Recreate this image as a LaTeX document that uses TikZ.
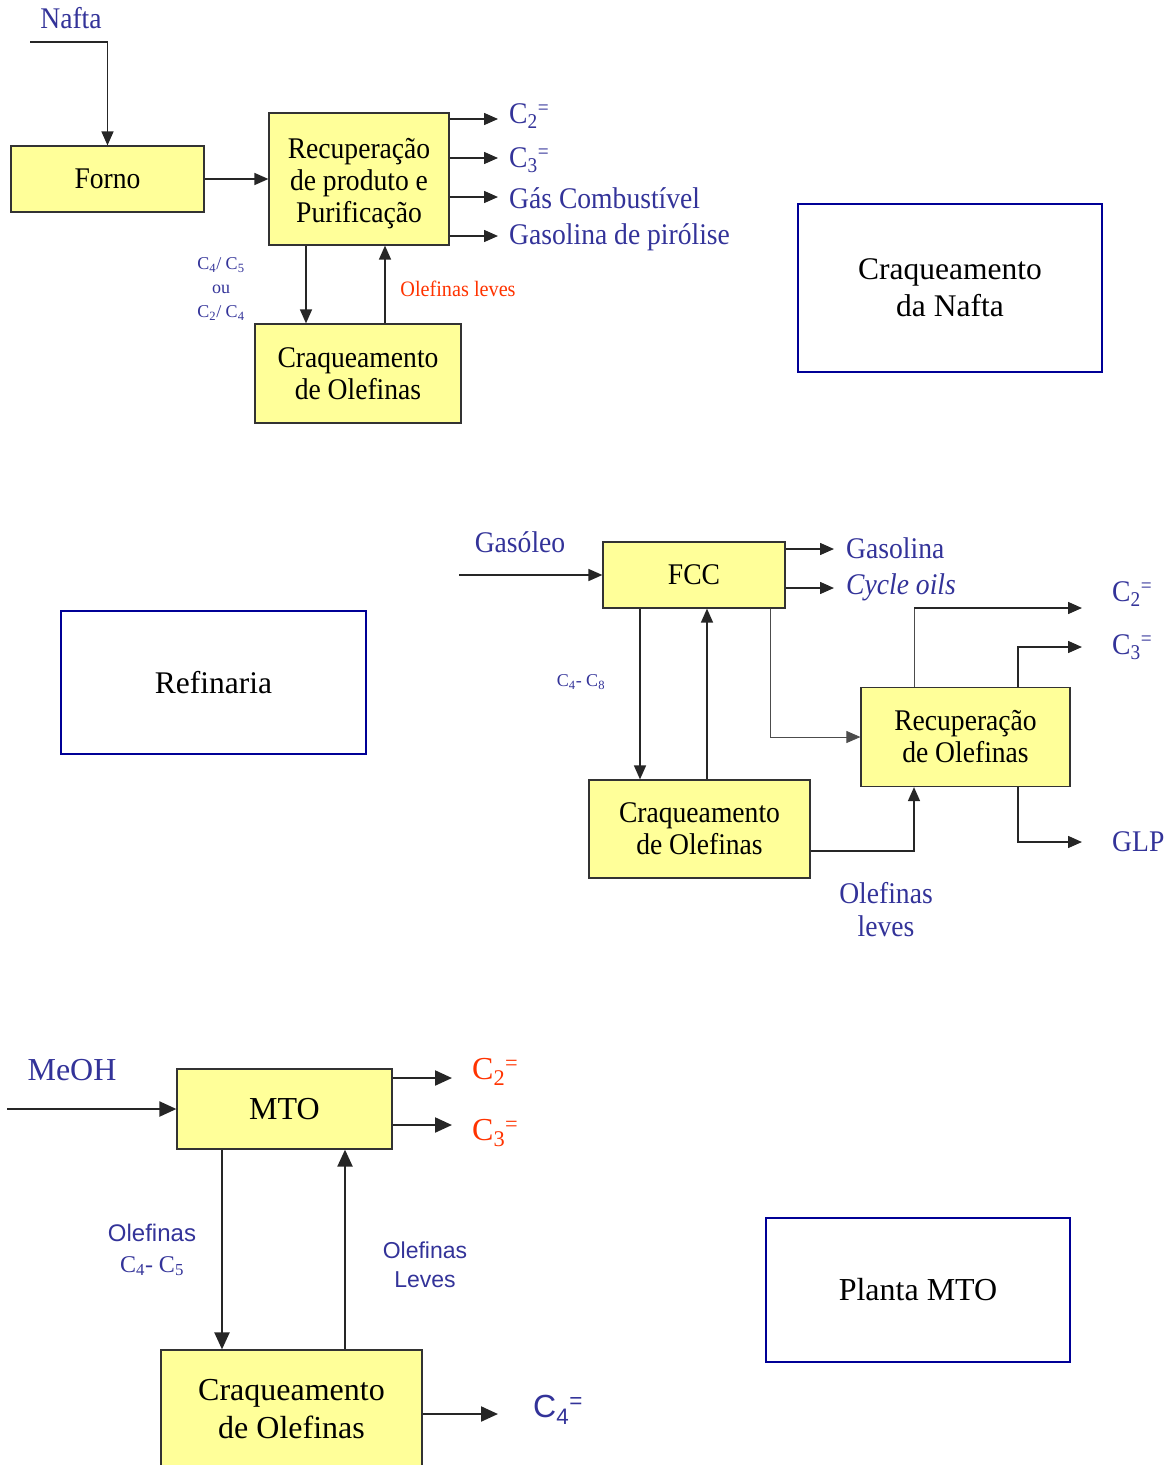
\documentclass[tikz,border=0pt]{standalone}
\usepackage{fontspec}
\setmainfont{Liberation Serif}
\newfontfamily\cond[FakeStretch=0.92]{Liberation Serif}
\newfontfamily\arial{Liberation Sans}
\usetikzlibrary{arrows.meta}
\definecolor{boxyellow}{RGB}{255,255,153}
\definecolor{labelblue}{RGB}{51,51,153}
\definecolor{labelred}{RGB}{255,51,0}
\definecolor{frameblue}{RGB}{0,0,150}
% olefin symbol: C with carbon count and double-bond mark
\newcommand{\olef}[1]{C\textsubscript{#1}\textsuperscript{=}}
\begin{document}
\begin{tikzpicture}[x=1pt,y=-1pt,
  proc/.style={draw=black!80, line width=1.2pt, fill=boxyellow, inner sep=0pt, align=center},
  frame/.style={draw=frameblue, line width=1.5pt, fill=white, inner sep=0pt, align=center,
    font=\fontsize{31.5}{37}\selectfont},
  flow/.style={line width=1.5pt, draw=black!85, -{Triangle[length=14pt,width=12pt]}},
  thick flow/.style={line width=2.2pt, draw=black!85, -{Triangle[length=17pt,width=15pt]}},
  thin flow/.style={line width=0.8pt, draw=black!70, -{Triangle[length=14pt,width=12pt]}},
  lbl/.style={text=labelblue, inner sep=0pt, align=center},
  small/.style={font=\cond\fontsize{30}{32}\selectfont},
  tiny/.style={font=\fontsize{18}{24}\selectfont}]
\useasboundingbox (0,0) rectangle (1174,1465);

% ---------- naphtha cracking ----------
\node[proc, small, minimum width=193pt, minimum height=66pt] (forno) at (107.5,179) {Forno};
\node[proc, minimum width=180pt, minimum height=132pt] (recup) at (359,179) {};
\node[small, align=center, inner sep=0pt] (recup text) at ([yshift=-5pt]recup.center)
  {Recuperação\\de produto e\\Purificação};
\node[proc, small, minimum width=206pt, minimum height=99pt] (craqA) at (358,373.5)
  {Craqueamento\\de Olefinas};
\node[frame, minimum width=304pt, minimum height=168pt] (nafta box) at (950,288)
  {Craqueamento\\da Nafta};

\node[lbl, small] (nafta) at (71,18) {Nafta};
\coordinate (nafta in) at (30,42);
\draw[flow] (nafta in) -- (forno.north |- nafta in) -- (forno.north);
\draw[flow] (forno.east) -- (recup.west);

\node[lbl, small, anchor=west] (c2A) at (509,116) {\olef{2}};
\node[lbl, small, anchor=west] (c3A) at (509,160) {\olef{3}};
\node[lbl, small, anchor=west] (gas) at (509,198) {Gás Combustível};
\node[lbl, small, anchor=west] (pir) at (509,237) {Gasolina de pirólise};
\coordinate (c2A end) at (498,119);
\coordinate (c3A end) at (498,158);
\coordinate (gas end) at (498,197);
\coordinate (pir end) at (498,236);
\draw[flow] (recup.east |- c2A end) -- (c2A end);
\draw[flow] (recup.east |- c3A end) -- (c3A end);
\draw[flow] (recup.east |- gas end) -- (gas end);
\draw[flow] (recup.east |- pir end) -- (pir end);

\draw[flow] ([xshift=-53pt]recup.south) -- ([xshift=-53pt]recup.south |- craqA.north);
\draw[flow] ([xshift=27pt]craqA.north) -- ([xshift=27pt]craqA.north |- recup.south);
\node[lbl, tiny] (cutA) at (221,289)
  {C\textsubscript{4}/ C\textsubscript{5}\\ou\\C\textsubscript{2}/ C\textsubscript{4}};
\node[text=labelred, inner sep=0pt, font=\cond\fontsize{22}{24}\selectfont] (levesA) at (458,289)
  {Olefinas leves};

% ---------- refinery ----------
\node[frame, minimum width=305pt, minimum height=143pt] (ref box) at (213.5,682.5) {Refinaria};
\node[proc, small, minimum width=182pt, minimum height=66pt] (fcc) at (694,575) {FCC};
\node[proc, small, minimum width=209pt, minimum height=99pt] (recupB) at (965.5,737)
  {Recuperação\\de Olefinas};
\node[proc, small, minimum width=221pt, minimum height=98pt] (craqB) at (699.5,829)
  {Craqueamento\\de Olefinas};

\node[lbl, small] (gasoleo) at (520,542) {Gasóleo};
\coordinate (gasoleo in) at (459,575);
\draw[flow] (gasoleo in) -- (fcc.west);

\node[lbl, small, anchor=west] (gasolina) at (846,548) {Gasolina};
\node[lbl, small, anchor=west] (cycle) at (846,587) {\itshape Cycle oils};
\coordinate (gasolina end) at (834,549);
\coordinate (cycle end) at (834,588);
\draw[flow] (fcc.east |- gasolina end) -- (gasolina end);
\draw[flow] (fcc.east |- cycle end) -- (cycle end);

\draw[flow] ([xshift=-54pt]fcc.south) -- ([xshift=-54pt]fcc.south |- craqB.north);
\draw[flow] ([xshift=7.5pt]craqB.north) -- ([xshift=7.5pt]craqB.north |- fcc.south);
\node[lbl, tiny] (cutB) at (581,682) {C\textsubscript{4}- C\textsubscript{8}};

\draw[thin flow] ([xshift=76pt]fcc.south) |- (recupB.west);

\node[lbl, small, anchor=west] (c2B) at (1112,594) {\olef{2}};
\node[lbl, small, anchor=west] (c3B) at (1112,647) {\olef{3}};
\node[lbl, small, anchor=west] (glp) at (1112,842) {GLP};
\coordinate (c2B end) at (1082,608);
\coordinate (c3B end) at (1082,647);
\coordinate (glp end) at (1082,842);
\coordinate (c2B turn) at ([xshift=-51.5pt]recupB.north |- c2B end);
\draw[line width=0.8pt, draw=black!70] ([xshift=-51.5pt]recupB.north) -- (c2B turn);
\draw[flow] (c2B turn) -- (c2B end);
\draw[flow] ([xshift=52.5pt]recupB.north) |- (c3B end);
\draw[flow] ([xshift=52.5pt]recupB.south) |- (glp end);
\draw[flow] ([yshift=-22pt]craqB.east) -| ([xshift=-51.5pt]recupB.south);
\node[lbl, small, font=\cond\fontsize{30}{33}\selectfont] (levesB) at (886,910) {Olefinas\\leves};

% ---------- methanol to olefins ----------
\node[proc, font=\fontsize{32}{38}\selectfont, minimum width=215pt, minimum height=80pt] (mto) at (284.5,1109) {MTO};
\node[proc, font=\fontsize{32}{38}\selectfont, minimum width=261pt, minimum height=118pt] (craqC) at (291.5,1409)
  {Craqueamento\\de Olefinas};
\node[frame, font=\fontsize{32}{38}\selectfont, minimum width=304pt, minimum height=144pt] (mto box) at (918,1290) {Planta MTO};

\node[lbl, font=\fontsize{32}{38}\selectfont] (meoh) at (72,1070) {MeOH};
\coordinate (meoh in) at (7,1109);
\draw[thick flow] (meoh in) -- (mto.west);

\node[text=labelred, inner sep=0pt, anchor=west, font=\fontsize{32}{38}\selectfont] (c2C) at (472,1072) {\olef{2}};
\node[text=labelred, inner sep=0pt, anchor=west, font=\fontsize{32}{38}\selectfont] (c3C) at (472,1133) {\olef{3}};
\coordinate (c2C end) at (452,1078);
\coordinate (c3C end) at (452,1125);
\draw[thick flow] (mto.east |- c2C end) -- (c2C end);
\draw[thick flow] (mto.east |- c3C end) -- (c3C end);

\draw[thick flow] ([xshift=-62.5pt]mto.south) -- ([xshift=-62.5pt]mto.south |- craqC.north);
\draw[thick flow] ([xshift=53.5pt]craqC.north) -- ([xshift=53.5pt]craqC.north |- mto.south);
\node[lbl, font=\fontsize{24}{31}\selectfont] (cutC) at (152,1250)
  {{\arial Olefinas}\\C\textsubscript{4}- C\textsubscript{5}};
\node[lbl, font=\arial\fontsize{23}{29}\selectfont] (levesC) at (425,1265) {Olefinas\\Leves};

\node[lbl, anchor=west, font=\arial\fontsize{32}{38}\selectfont] (c4C) at (533,1410) {\olef{4}};
\coordinate (c4C end) at (498,1414);
\draw[thick flow] (craqC.east |- c4C end) -- (c4C end);
\end{tikzpicture}
\end{document}
